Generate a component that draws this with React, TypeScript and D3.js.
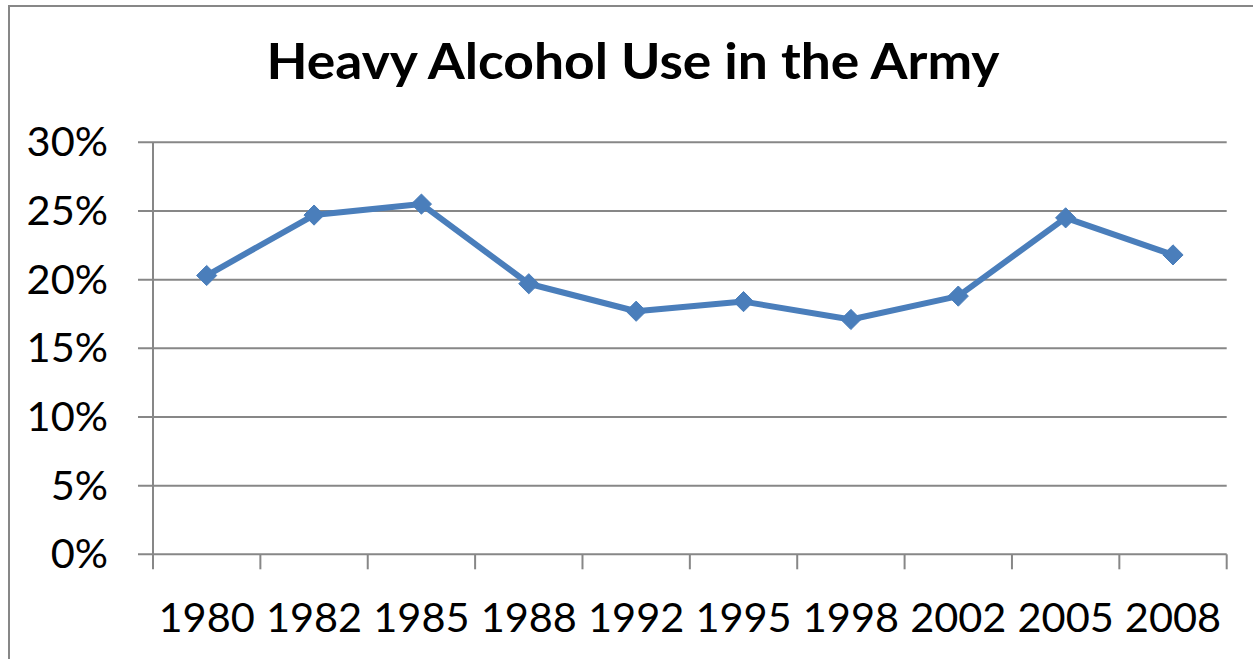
import React from "react";
import * as d3 from "d3";

const categories = ["1980", "1982", "1985", "1988", "1992", "1995", "1998", "2002", "2005", "2008"];
const values = [0.203, 0.247, 0.255, 0.197, 0.177, 0.184, 0.171, 0.188, 0.245, 0.218];
const yTicks = [0, 0.05, 0.1, 0.15, 0.2, 0.25, 0.3];
const title = "Heavy Alcohol Use in the Army";

const W = 1253;
const H = 659;
const plot = { left: 153, right: 1226.7, top: 142.3, bottom: 554.3 };

export default function App() {
  const x = d3.scaleBand<string>().domain(categories).range([plot.left, plot.right]).padding(0);
  const y = d3.scaleLinear().domain([0, 0.3]).range([plot.bottom, plot.top]);
  const line = d3
    .line<number>()
    .x((_, i) => (x(categories[i]) as number) + x.bandwidth() / 2)
    .y((d) => y(d));
  const diamond = d3.symbol().type(d3.symbolDiamond2).size(260)();
  const fmt = d3.format(".0%");
  const grid = "#878787";
  const boundaries = categories.map((c) => x(c) as number).concat([plot.right]);
  const font = "Lato, 'Open Sans', sans-serif";

  return (
    <svg
      width={W}
      height={H}
      style={{ position: "fixed", left: 0, top: 0, background: "#fff" }}
      fontFamily={font}
    >
      <rect x={0} y={0} width={W} height={H} fill="#fff" />
      <rect x={9} y={6} width={W + 20} height={H + 20} fill="none" stroke={grid} strokeWidth={2} />
      <text
        x={633}
        y={79}
        textAnchor="middle"
        fontSize={50}
        fontWeight={700}
        fill="#000"
        textLength={733}
        lengthAdjust="spacingAndGlyphs"
      >
        {title}
      </text>
      {yTicks.map((t) => (
        <g key={t}>
          <line x1={plot.left - 15} x2={plot.right} y1={y(t)} y2={y(t)} stroke={grid} strokeWidth={2} />
          <text x={108} y={y(t) + 14} textAnchor="end" fontSize={41.5} fill="#000">
            {fmt(t)}
          </text>
        </g>
      ))}
      <line x1={plot.left} x2={plot.left} y1={plot.top} y2={plot.bottom} stroke={grid} strokeWidth={2} />
      {boundaries.map((b, i) => (
        <line key={i} x1={b} x2={b} y1={plot.bottom} y2={plot.bottom + 15} stroke={grid} strokeWidth={2} />
      ))}
      {categories.map((c) => (
        <text
          key={c}
          x={(x(c) as number) + x.bandwidth() / 2}
          y={632}
          textAnchor="middle"
          fontSize={41.5}
          fill="#000"
        >
          {c}
        </text>
      ))}
      <path d={line(values) || ""} fill="none" stroke="#4A7EBB" strokeWidth={6} strokeLinejoin="round" />
      {values.map((v, i) => (
        <path
          key={i}
          d={diamond || ""}
          transform={`translate(${(x(categories[i]) as number) + x.bandwidth() / 2},${y(v)})`}
          fill="#4A7EBB"
          stroke="#4A7EBB"
          strokeWidth={1}
        />
      ))}
    </svg>
  );
}
